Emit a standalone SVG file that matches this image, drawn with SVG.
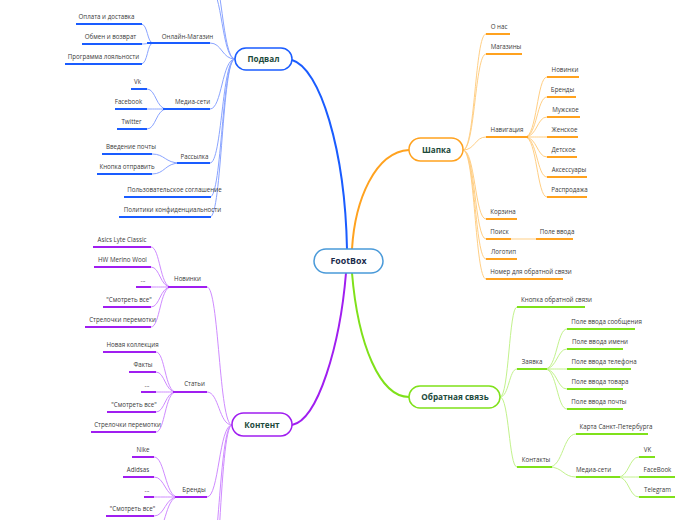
<svg xmlns="http://www.w3.org/2000/svg" width="696" height="520" viewBox="0 0 696 520">
<style>
.t{font-family:"Open Sans","DejaVu Sans",sans-serif;font-size:6.2px;fill:#3a3a3a;text-anchor:middle}
.m{font-family:"Open Sans","DejaVu Sans",sans-serif;font-weight:bold;font-size:8.2px;fill:#1c4a3b;text-anchor:middle}
.ub{stroke:#1a5cff;stroke-width:2}
.uo{stroke:#ffa21f;stroke-width:2}
.ug{stroke:#7fe11a;stroke-width:2}
.up{stroke:#a01ef0;stroke-width:2}
.cb{fill:none;stroke:#8aa4ff;stroke-width:1}
.co{fill:none;stroke:#ffcf85;stroke-width:1}
.cg{fill:none;stroke:#c2f28c;stroke-width:1}
.cp{fill:none;stroke:#cf8bff;stroke-width:1}
.box{fill:#fff;stroke-width:1.5}
</style>
<rect width="696" height="520" fill="#fff"/>
<g id="connectors">
<path d="M347,249 C345,150 320,68 292,60" fill="none" stroke="#1a5cff" stroke-width="2"/>
<path d="M352,249 C355,200 375,152 409,150" fill="none" stroke="#ffa21f" stroke-width="2"/>
<path d="M352,273 C358,345 380,397 409,397" fill="none" stroke="#7fe11a" stroke-width="2"/>
<path d="M346,273 C340,345 318,420 292,425" fill="none" stroke="#a01ef0" stroke-width="2"/>
<!-- Подвал -->
<path class="cb" d="M235,59 C222,59 222,43 210,43"/>
<path class="cb" d="M235,59 C222,59 222,109 210,109"/>
<path class="cb" d="M235,59 C222,59 222,163 210,163"/>
<path class="cb" d="M235,59 C222,59 222,197 210,197"/>
<path class="cb" d="M235,59 C222,59 222,217 210,217"/>
<path class="cb" d="M235,59 C222,59 222,-12 210,-12"/>
<path class="cb" d="M235,59 C222,59 222,-32 210,-32"/>
<path class="cb" d="M153,43 C147,43 148,24 141,24"/>
<path class="cb" d="M153,43 C147,43 148,44 141,44"/>
<path class="cb" d="M153,43 C147,43 148,64 141,64"/>
<path class="cb" d="M167,109 C156,109 156,89 147,89"/>
<path class="cb" d="M167,109 C156,109 156,109 147,109"/>
<path class="cb" d="M167,109 C156,109 156,129 147,129"/>
<path class="cb" d="M180,163 C165,163 165,154 152,154"/>
<path class="cb" d="M180,163 C165,163 165,174 152,174"/>
<!-- Контент -->
<path class="cp" d="M232,425 C219,425 219,287 207,287"/>
<path class="cp" d="M232,425 C219,425 219,392 207,392"/>
<path class="cp" d="M232,425 C219,425 219,497 207,497"/>
<path class="cp" d="M232,425 C219,425 219,580 207,580"/>
<path class="cp" d="M232,425 C219,425 219,640 207,640"/>
<path class="cp" d="M171,287 C160,287 160,247 151,247"/>
<path class="cp" d="M171,287 C160,287 160,267 151,267"/>
<path class="cp" d="M171,287 C160,287 160,287 151,287"/>
<path class="cp" d="M171,287 C160,287 160,307 151,307"/>
<path class="cp" d="M171,287 C160,287 160,327 151,327"/>
<path class="cp" d="M176,392 C165,392 165,352 156,352"/>
<path class="cp" d="M176,392 C165,392 165,372 156,372"/>
<path class="cp" d="M176,392 C165,392 165,392 156,392"/>
<path class="cp" d="M176,392 C165,392 165,412 156,412"/>
<path class="cp" d="M176,392 C165,392 165,432 156,432"/>
<path class="cp" d="M178,497 C165,497 165,457 154,457"/>
<path class="cp" d="M178,497 C165,497 165,477 154,477"/>
<path class="cp" d="M178,497 C165,497 165,497 154,497"/>
<path class="cp" d="M178,497 C165,497 165,516 154,516"/>
<path class="cp" d="M178,497 C165,497 165,536 154,536"/>
<!-- Шапка -->
<path class="co" d="M463,150 C475,150 475,34 486,34"/>
<path class="co" d="M463,150 C475,150 475,54 486,54"/>
<path class="co" d="M463,150 C475,150 475,137 486,137"/>
<path class="co" d="M463,150 C475,150 475,219 486,219"/>
<path class="co" d="M463,150 C475,150 475,239 486,239"/>
<path class="co" d="M463,150 C475,150 475,259 486,259"/>
<path class="co" d="M463,150 C475,150 475,279 486,279"/>
<path class="co" d="M525,137 C537,137 537,77 547,77"/>
<path class="co" d="M525,137 C537,137 537,97 547,97"/>
<path class="co" d="M525,137 C537,137 537,117 547,117"/>
<path class="co" d="M525,137 C537,137 537,137 547,137"/>
<path class="co" d="M525,137 C537,137 537,157 547,157"/>
<path class="co" d="M525,137 C537,137 537,177 547,177"/>
<path class="co" d="M525,137 C537,137 537,197 547,197"/>
<path class="co" d="M509,239 L536,239"/>
<!-- Обратная связь -->
<path class="cg" d="M500,397 C509,397 509,307 517,307"/>
<path class="cg" d="M500,397 C509,397 509,369 517,369"/>
<path class="cg" d="M500,397 C509,397 509,467 517,467"/>
<path class="cg" d="M545,369 C557,369 557,329 567,329"/>
<path class="cg" d="M545,369 C557,369 557,349 567,349"/>
<path class="cg" d="M545,369 C557,369 557,369 567,369"/>
<path class="cg" d="M545,369 C557,369 557,389 567,389"/>
<path class="cg" d="M545,369 C557,369 557,409 567,409"/>
<path class="cg" d="M549,467 C563,467 563,434 576,434"/>
<path class="cg" d="M549,467 C563,467 563,477 576,477"/>
<path class="cg" d="M618,477 C629,477 629,457 639,457"/>
<path class="cg" d="M618,477 C629,477 629,477 639,477"/>
<path class="cg" d="M618,477 C629,477 629,497 639,497"/>
</g>
<!-- Main nodes -->
<g id="footbox"><rect class="box" x="314" y="249" width="69" height="24" rx="12" stroke="#4a9ad9"/><text x="348.5" y="264.3" font-family="'Open Sans','DejaVu Sans',sans-serif" font-weight="bold" font-size="8.8" fill="#1a2b4c" text-anchor="middle">FootBox</text></g>
<g id="podval"><rect class="box" x="235" y="48" width="57" height="22" rx="11" stroke="#1a5cff"/><text class="m" x="263.5" y="62">Подвал</text></g>
<g id="shapka"><rect class="box" x="409" y="138" width="54" height="23" rx="11.5" stroke="#ffa21f"/><text class="m" x="436.5" y="152.5">Шапка</text></g>
<g id="feedback"><rect class="box" x="409" y="386" width="91" height="22" rx="11" stroke="#7fe11a"/><text class="m" x="455" y="400">Обратная связь</text></g>
<g id="content"><rect class="box" x="232" y="413" width="60" height="23" rx="11.5" stroke="#a01ef0"/><text class="m" x="262" y="427.5">Контент</text></g>
<!-- Подвал children -->
<g id="p-online"><line class="ub" x1="147" y1="43" x2="210" y2="43"/><text class="t" x="187.5" y="38.5">Онлайн-Магазин</text></g>
<g id="p-pay"><line class="ub" x1="76" y1="24" x2="142" y2="24"/><text class="t" x="106.5" y="19">Оплата и доставка</text></g>
<g id="p-exchange"><line class="ub" x1="82" y1="44" x2="142" y2="44"/><text class="t" x="110.5" y="39">Обмен и возврат</text></g>
<g id="p-loyal"><line class="ub" x1="65" y1="64" x2="142" y2="64"/><text class="t" x="103.5" y="59">Программа лояльности</text></g>
<g id="p-media"><line class="ub" x1="163" y1="109" x2="210" y2="109"/><text class="t" x="192.5" y="104">Медиа-сети</text></g>
<g id="p-vk"><line class="ub" x1="131" y1="89" x2="147" y2="89"/><text class="t" x="137.5" y="84">Vk</text></g>
<g id="p-fb"><line class="ub" x1="115" y1="109" x2="147" y2="109"/><text class="t" x="128.5" y="104">Facebook</text></g>
<g id="p-tw"><line class="ub" x1="117" y1="129" x2="147" y2="129"/><text class="t" x="131.5" y="124">Twitter</text></g>
<g id="p-mail"><line class="ub" x1="177" y1="163" x2="210" y2="163"/><text class="t" x="194.5" y="159">Рассылка</text></g>
<g id="p-email"><line class="ub" x1="102" y1="154" x2="152" y2="154"/><text class="t" x="131" y="149">Введение почты</text></g>
<g id="p-send"><line class="ub" x1="97" y1="174" x2="152" y2="174"/><text class="t" x="127" y="169">Кнопка отправить</text></g>
<g id="p-terms"><line class="ub" x1="124" y1="197" x2="211" y2="197"/><text class="t" x="174.5" y="191.5">Пользовательское соглашение</text></g>
<g id="p-privacy"><line class="ub" x1="119" y1="217" x2="211" y2="217"/><text class="t" x="172.5" y="211.5">Политики конфиденциальности</text></g>
<!-- Контент children -->
<g id="c-new"><line class="up" x1="168" y1="287" x2="207" y2="287"/><text class="t" x="187.5" y="281">Новинки</text></g>
<g id="c-new-1"><line class="up" x1="93" y1="247" x2="151" y2="247"/><text class="t" x="122" y="241.5">Asics Lyte Classic</text></g>
<g id="c-new-2"><line class="up" x1="94" y1="267" x2="151" y2="267"/><text class="t" x="122.5" y="261.5">HW Merino Wool</text></g>
<g id="c-new-3"><line class="up" x1="136" y1="287" x2="151" y2="287"/><text class="t" x="143" y="281.5">...</text></g>
<g id="c-new-4"><line class="up" x1="103" y1="307" x2="151" y2="307"/><text class="t" x="129" y="301.5">"Смотреть все"</text></g>
<g id="c-new-5"><line class="up" x1="85" y1="327" x2="151" y2="327"/><text class="t" x="122.5" y="321.5">Стрелочки перемотки</text></g>
<g id="c-art"><line class="up" x1="173" y1="392" x2="207" y2="392"/><text class="t" x="194.5" y="386">Статьи</text></g>
<g id="c-art-1"><line class="up" x1="103" y1="352" x2="156" y2="352"/><text class="t" x="132.5" y="346.5">Новая коллекция</text></g>
<g id="c-art-2"><line class="up" x1="129" y1="372" x2="156" y2="372"/><text class="t" x="143" y="366.5">Факты</text></g>
<g id="c-art-3"><line class="up" x1="141" y1="392" x2="156" y2="392"/><text class="t" x="147" y="386.5">...</text></g>
<g id="c-art-4"><line class="up" x1="107" y1="412" x2="156" y2="412"/><text class="t" x="134" y="406.5">"Смотреть все"</text></g>
<g id="c-art-5"><line class="up" x1="91" y1="432" x2="156" y2="432"/><text class="t" x="127.5" y="426.5">Стрелочки перемотки</text></g>
<g id="c-br"><line class="up" x1="175" y1="497" x2="207" y2="497"/><text class="t" x="194" y="491.5">Бренды</text></g>
<g id="c-br-1"><line class="up" x1="132" y1="457" x2="154" y2="457"/><text class="t" x="143" y="451.5">Nike</text></g>
<g id="c-br-2"><line class="up" x1="123" y1="477" x2="154" y2="477"/><text class="t" x="138" y="471.5">Adidsas</text></g>
<g id="c-br-3"><line class="up" x1="144" y1="497" x2="154" y2="497"/><text class="t" x="147" y="491.5">...</text></g>
<g id="c-br-4"><line class="up" x1="106" y1="516" x2="154" y2="516"/><text class="t" x="132.5" y="511">"Смотреть все"</text></g>
<!-- Шапка children -->
<g id="s-about"><line class="uo" x1="486" y1="34" x2="510" y2="34"/><text class="t" x="499" y="29">О нас</text></g>
<g id="s-shops"><line class="uo" x1="486" y1="54" x2="522" y2="54"/><text class="t" x="506" y="49">Магазины</text></g>
<g id="s-nav"><line class="uo" x1="486" y1="137" x2="528" y2="137"/><text class="t" x="507" y="132">Навигация</text></g>
<g id="s-nav-1"><line class="uo" x1="547" y1="77" x2="579" y2="77"/><text class="t" x="565" y="72">Новинки</text></g>
<g id="s-nav-2"><line class="uo" x1="547" y1="97" x2="576" y2="97"/><text class="t" x="562.5" y="92">Бренды</text></g>
<g id="s-nav-3"><line class="uo" x1="547" y1="117" x2="580" y2="117"/><text class="t" x="565.5" y="112">Мужское</text></g>
<g id="s-nav-4"><line class="uo" x1="547" y1="137" x2="578" y2="137"/><text class="t" x="564.5" y="132">Женское</text></g>
<g id="s-nav-5"><line class="uo" x1="547" y1="157" x2="577" y2="157"/><text class="t" x="563.5" y="152">Детское</text></g>
<g id="s-nav-6"><line class="uo" x1="547" y1="177" x2="587" y2="177"/><text class="t" x="569" y="172">Аксессуары</text></g>
<g id="s-nav-7"><line class="uo" x1="547" y1="197" x2="587" y2="197"/><text class="t" x="569.5" y="192">Распродажа</text></g>
<g id="s-cart"><line class="uo" x1="486" y1="219" x2="517" y2="219"/><text class="t" x="503" y="214">Корзина</text></g>
<g id="s-search"><line class="uo" x1="486" y1="239" x2="511" y2="239"/><text class="t" x="499.5" y="234">Поиск</text></g>
<g id="s-input"><line class="uo" x1="536" y1="239" x2="573" y2="239"/><text class="t" x="557" y="234">Поле ввода</text></g>
<g id="s-logo"><line class="uo" x1="486" y1="259" x2="517" y2="259"/><text class="t" x="503.5" y="254">Логотип</text></g>
<g id="s-phone"><line class="uo" x1="486" y1="279" x2="563" y2="279"/><text class="t" x="531" y="274">Номер для обратной связи</text></g>
<!-- Обратная связь children -->
<g id="f-btn"><line class="ug" x1="517" y1="307" x2="585" y2="307"/><text class="t" x="556.5" y="301.5">Кнопка обратной связи</text></g>
<g id="f-req"><line class="ug" x1="517" y1="369" x2="547" y2="369"/><text class="t" x="532" y="364">Заявка</text></g>
<g id="f-req-1"><line class="ug" x1="567" y1="329" x2="635" y2="329"/><text class="t" x="606.5" y="324">Поле ввода сообщения</text></g>
<g id="f-req-2"><line class="ug" x1="567" y1="349" x2="623" y2="349"/><text class="t" x="600" y="344">Поле ввода имени</text></g>
<g id="f-req-3"><line class="ug" x1="567" y1="369" x2="631" y2="369"/><text class="t" x="604" y="364">Поле ввода телефона</text></g>
<g id="f-req-4"><line class="ug" x1="567" y1="389" x2="623" y2="389"/><text class="t" x="600" y="384">Поле ввода товара</text></g>
<g id="f-req-5"><line class="ug" x1="567" y1="409" x2="623" y2="409"/><text class="t" x="599" y="404">Поле ввода почты</text></g>
<g id="f-cont"><line class="ug" x1="517" y1="467" x2="552" y2="467"/><text class="t" x="536" y="461.5">Контакты</text></g>
<g id="f-map"><line class="ug" x1="576" y1="434" x2="648" y2="434"/><text class="t" x="616" y="429">Карта Санкт-Петербурга</text></g>
<g id="f-media"><line class="ug" x1="576" y1="477" x2="620" y2="477"/><text class="t" x="593.5" y="471.5">Медиа-сети</text></g>
<g id="f-vk"><line class="ug" x1="639" y1="457" x2="655" y2="457"/><text class="t" x="647.5" y="451.5">VK</text></g>
<g id="f-fb"><line class="ug" x1="639" y1="477" x2="675" y2="477"/><text class="t" x="657.5" y="471.5">FaceBook</text></g>
<g id="f-tg"><line class="ug" x1="639" y1="497" x2="675" y2="497"/><text class="t" x="657.5" y="491.5">Telegram</text></g>
</svg>
